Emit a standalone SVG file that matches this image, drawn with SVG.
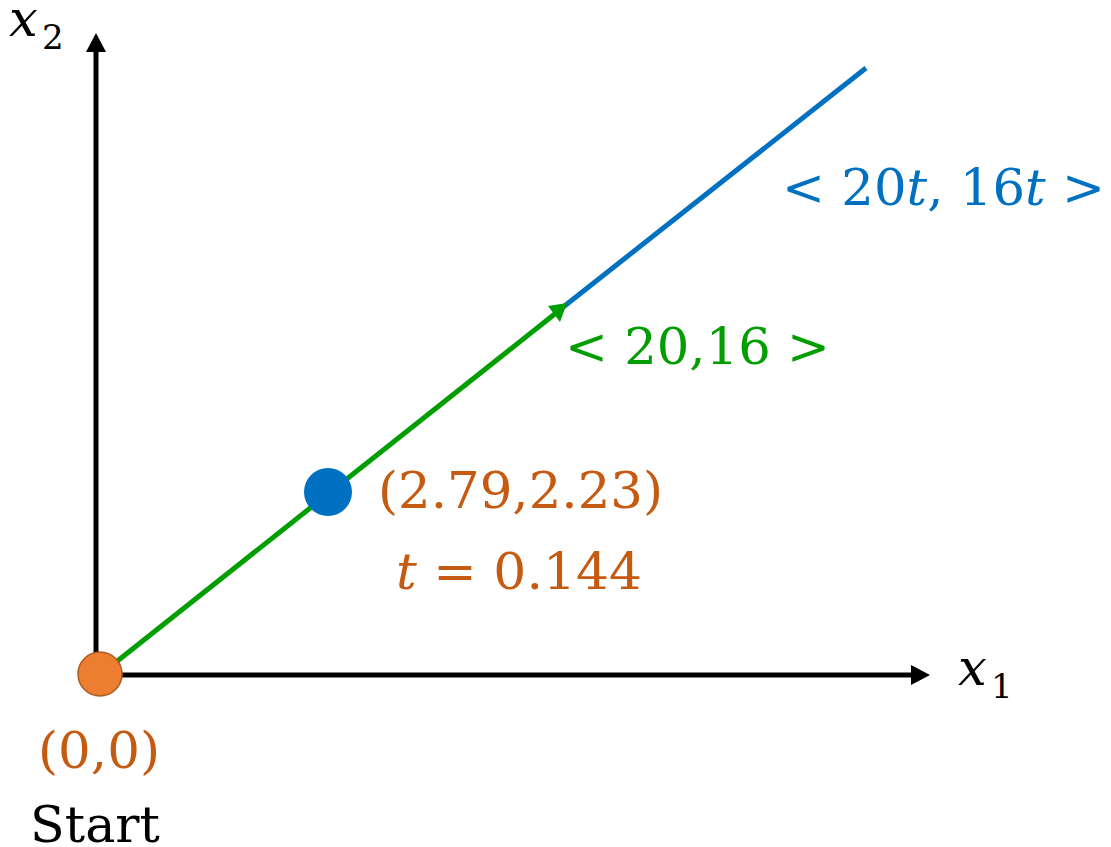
<svg xmlns="http://www.w3.org/2000/svg" width="1111" height="847" viewBox="0 0 1111 847">
<style>
.t{font-family:"DejaVu Serif","Liberation Serif",serif;font-size:51px;}
.it{font-style:italic;}
.or{fill:#C55A11;}
.gr{fill:#009E00;}
.bl{fill:#0070C0;}
.bk{fill:#000;}
.sub{font-size:34px;}
</style>
<g id="connectors">
<line x1="96" y1="678" x2="96" y2="50" stroke="#000" stroke-width="5"/>
<path d="M96,33 L86,52 L106,52 Z" fill="#000"/>
<line x1="96" y1="675" x2="912" y2="675" stroke="#000" stroke-width="5"/>
<path d="M930,675 L911,665 L911,685 Z" fill="#000"/>
<line x1="562" y1="308" x2="866" y2="68" stroke="#0070C0" stroke-width="5"/>
<line x1="101" y1="674" x2="556" y2="313" stroke="#009E00" stroke-width="5"/>
<path d="M567,303 L548,306 L560,322 Z" fill="#009E00"/>
</g>
<g id="start">
<circle cx="100" cy="674" r="22" fill="#ED7D31" stroke="#AE5A21" stroke-width="1.5"/>
<text class="t or" x="38" y="768" textLength="122" lengthAdjust="spacingAndGlyphs">(0,0)</text>
<text class="t bk" x="30" y="842" textLength="130" lengthAdjust="spacingAndGlyphs">Start</text>
</g>
<g id="point">
<circle cx="328" cy="492" r="24" fill="#0070C0"/>
<text class="t or" x="378" y="508" textLength="285" lengthAdjust="spacingAndGlyphs">(2.79,2.23)</text>
<text class="t or" x="396" y="589" textLength="246" lengthAdjust="spacingAndGlyphs"><tspan class="it">t</tspan> = 0.144</text>
</g>
<g id="vector">
<text class="t gr" x="565" y="364" textLength="265" lengthAdjust="spacingAndGlyphs">&lt; 20,16 &gt;</text>
</g>
<g id="ray">
<text class="t bl" x="782" y="205" textLength="323" lengthAdjust="spacingAndGlyphs">&lt; 20<tspan class="it">t</tspan>, 16<tspan class="it">t</tspan> &gt;</text>
</g>
<g id="x1label">
<text class="t bk it" x="958" y="685">x</text>
<text class="t bk sub" x="991" y="698">1</text>
</g>
<g id="x2label">
<text class="t bk it" x="9" y="36">x</text>
<text class="t bk sub" x="42" y="49">2</text>
</g>
</svg>
